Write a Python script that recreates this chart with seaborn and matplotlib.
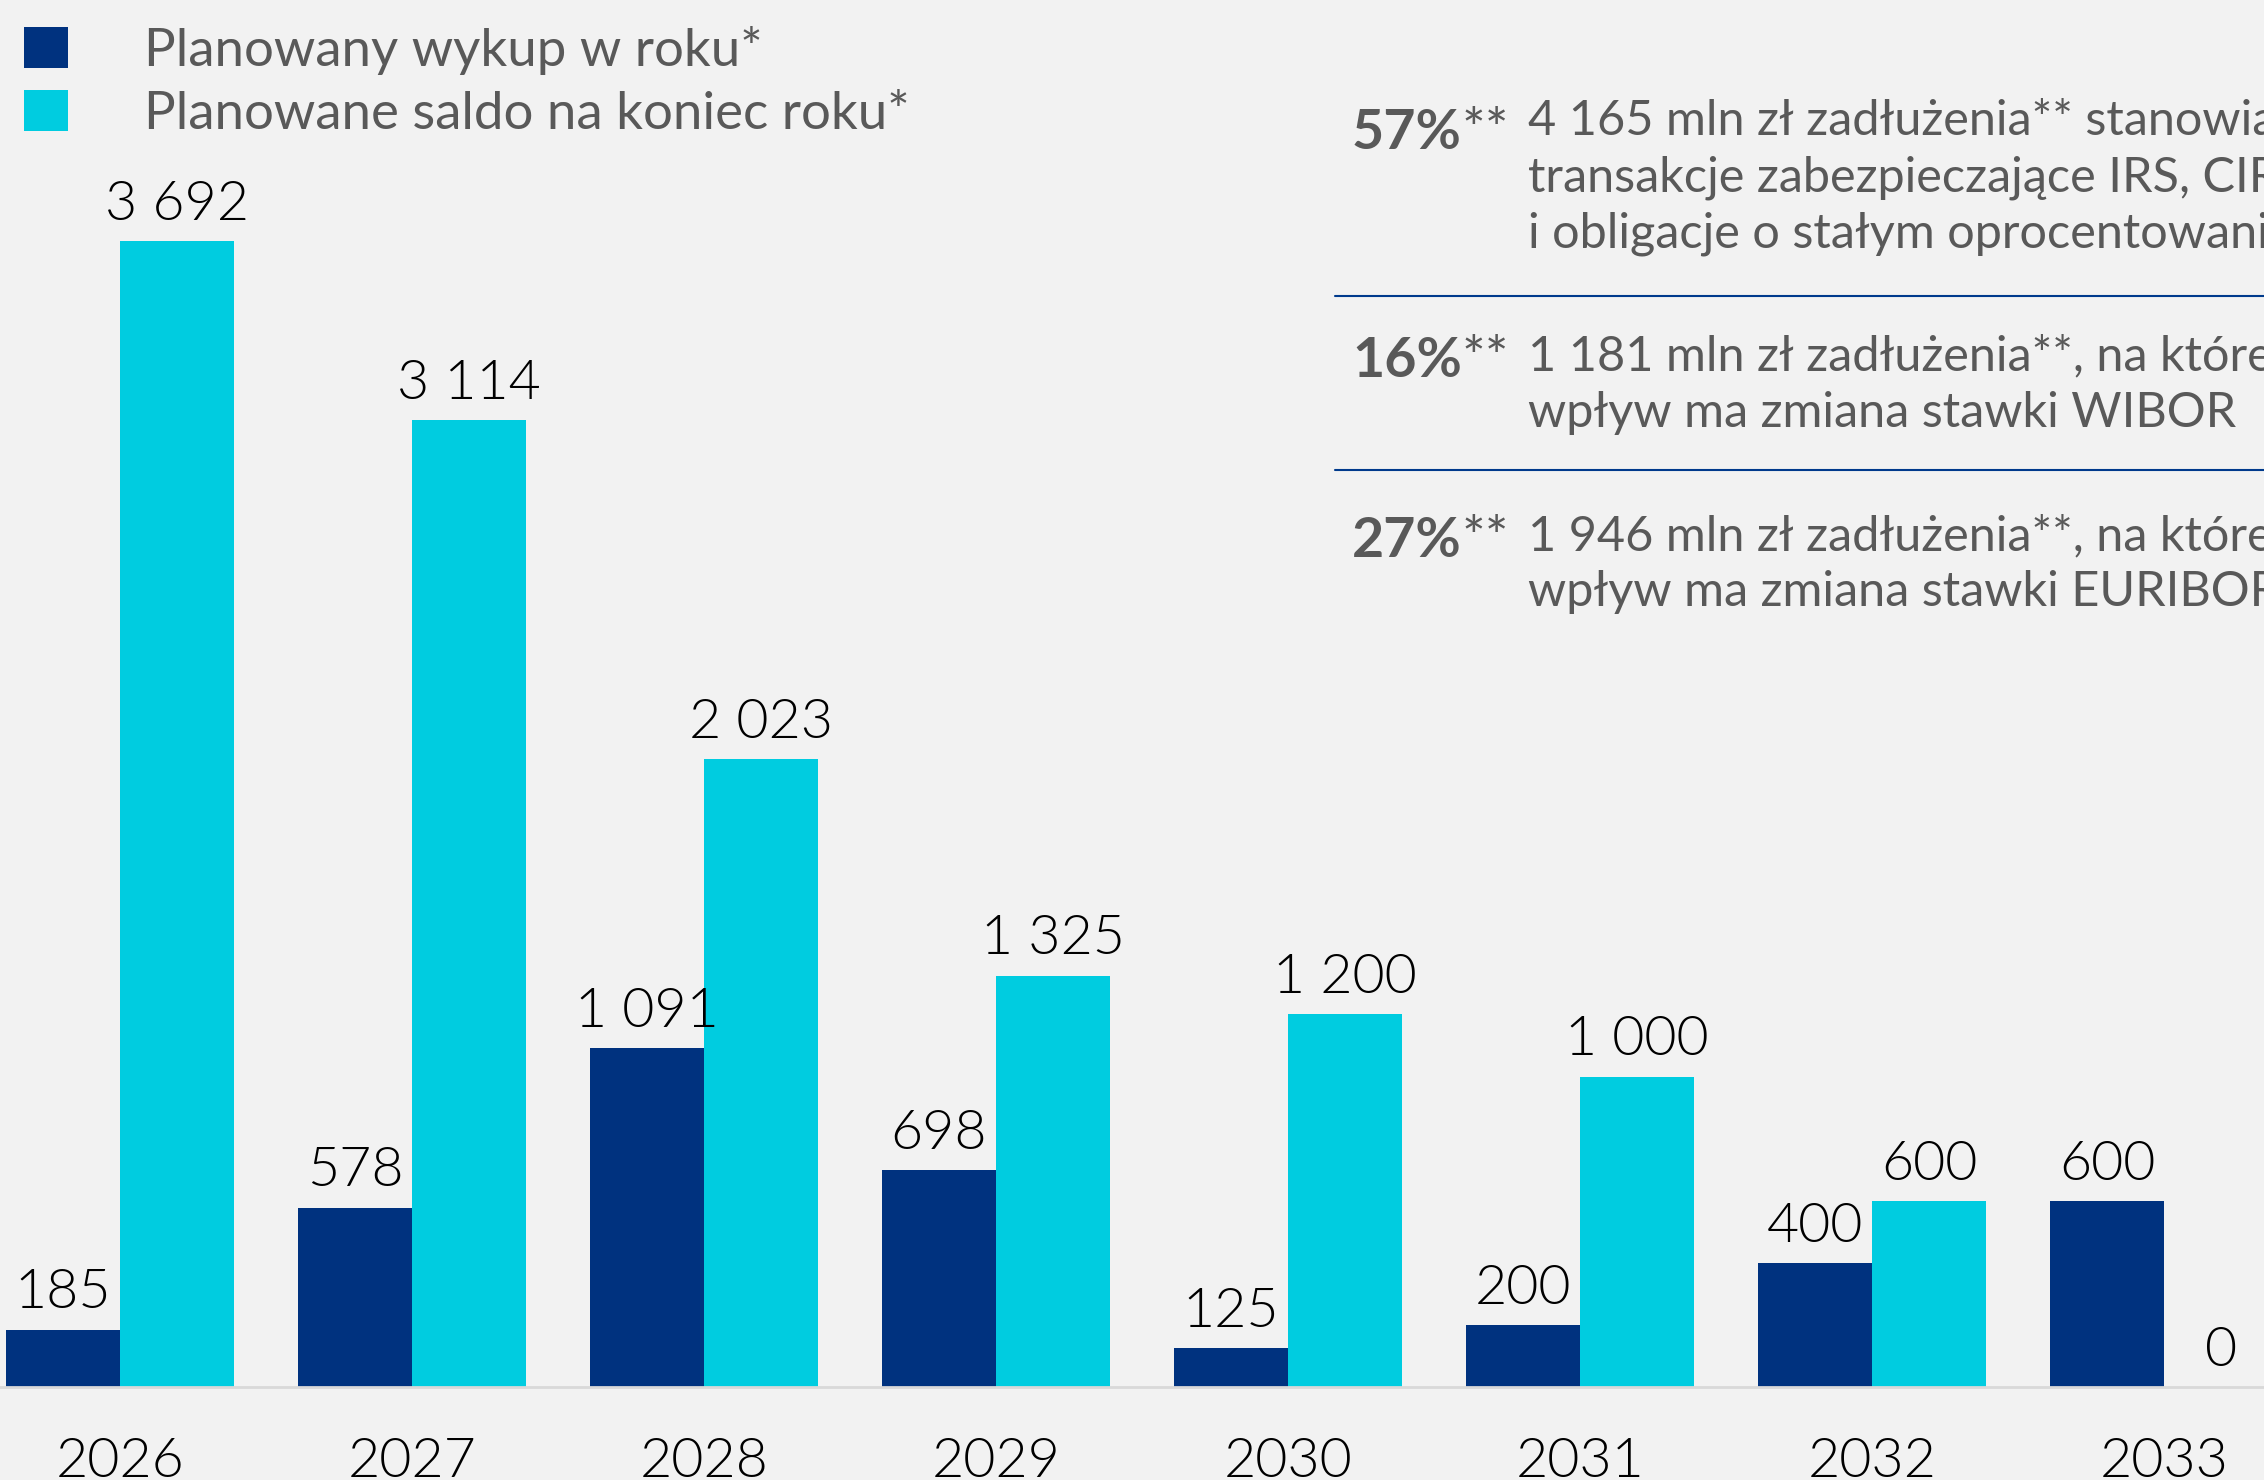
import numpy as np
import pandas as pd
import matplotlib
matplotlib.use('Agg')
import matplotlib.pyplot as plt
import seaborn as sns
from matplotlib.lines import Line2D

# ---------------- data ----------------
years = ['2026', '2027', '2028', '2029', '2030', '2031', '2032', '2033']
wykup = [185, 578, 1091, 698, 125, 200, 400, 600]
saldo = [3692, 3114, 2023, 1325, 1200, 1000, 600, 0]
series_names = ['Planowany wykup w roku*', 'Planowane saldo na koniec roku*']

pct_labels = ['57%', '16%', '27%']
desc_lines = [
    ['4 165 mln zł zadłużenia** stanowią',
     'transakcje zabezpieczające IRS, CIRS',
     'i obligacje o stałym oprocentowaniu'],
    ['1 181 mln zł zadłużenia**, na które',
     'wpływ ma zmiana stawki WIBOR'],
    ['1 946 mln zł zadłużenia**, na które',
     'wpływ ma zmiana stawki EURIBOR'],
]

# ---------------- style ----------------
NAVY = '#00327F'
CYAN = '#00CCE0'
GRAY = '#595959'
BG = '#F2F2F2'

sns.set_theme(style='white')
plt.rcParams['font.family'] = ['Lato', 'DejaVu Sans']

W, H = 2264, 1480
fig = plt.figure(figsize=(W / 100, H / 100), dpi=100, facecolor=BG)
base_px = 1387
ax = fig.add_axes([0, (H - base_px) / H, 1, base_px / H])
ax.set_facecolor(BG)

df = pd.DataFrame({
    'year': years * 2,
    'value': wykup + saldo,
    'series': [series_names[0]] * len(years) + [series_names[1]] * len(years),
})

sns.barplot(data=df, x='year', y='value', hue='series', order=years,
            hue_order=series_names, palette=[NAVY, CYAN], width=0.78,
            saturation=1, linewidth=0, ax=ax, legend=True)

px_per_unit = 292.0
center0 = 120.0
ax.set_xlim(-center0 / px_per_unit, (W - center0) / px_per_unit)
ax.set_ylim(0, base_px / 0.3105)

def fmt(v):
    return f'{v:,}'.replace(',', ' ')

for cont, vals in zip(ax.containers, [wykup, saldo]):
    ax.bar_label(cont, labels=[fmt(v) for v in vals], padding=8,
                 fontsize=40, color='black', fontweight=300)

ax.set_xlabel('')
ax.set_ylabel('')
ax.set_yticks([])
ax.tick_params(axis='x', length=0, pad=36, labelsize=40, labelcolor='black')
for t in ax.get_xticklabels():
    t.set_fontweight(300)
for s in ['left', 'right', 'top']:
    ax.spines[s].set_visible(False)
ax.spines['bottom'].set_color('#D9D9D9')
ax.spines['bottom'].set_linewidth(2)

ax.legend(loc='upper left', bbox_to_anchor=(24 / W, 1 - 26 / H),
          bbox_transform=fig.transFigure, frameon=False, fontsize=38,
          handlelength=0.83, handleheight=0.83, handletextpad=1.44,
          labelspacing=0.28, borderpad=0, borderaxespad=0,
          labelcolor=GRAY)

# ---------------- right-hand notes ----------------
def fx(x):
    return x / W

def fy(y):
    return 1 - y / H

pct_base = [149, 377, 557]
desc_base = [[135, 191, 247], [370, 427], [550, 606]]
for p, pb, lines, lbs in zip(pct_labels, pct_base, desc_lines, desc_base):
    t = fig.text(fx(1352), fy(pb), p, fontsize=40, fontweight='bold',
                 color=GRAY, va='baseline', ha='left')
    ax.annotate('**', xy=(1, 0), xycoords=t, fontsize=40, color=GRAY,
                va='bottom', ha='left', annotation_clip=False)
    for line, lb in zip(lines, lbs):
        fig.text(fx(1528), fy(lb), line, fontsize=35, color=GRAY,
                 va='baseline', ha='left')

for ys in [296, 470]:
    fig.add_artist(Line2D([fx(1335), 1.0], [fy(ys), fy(ys)],
                          transform=fig.transFigure, color='#003A8C', lw=1.5))

fig.savefig('out.png', dpi=100, facecolor=BG)
